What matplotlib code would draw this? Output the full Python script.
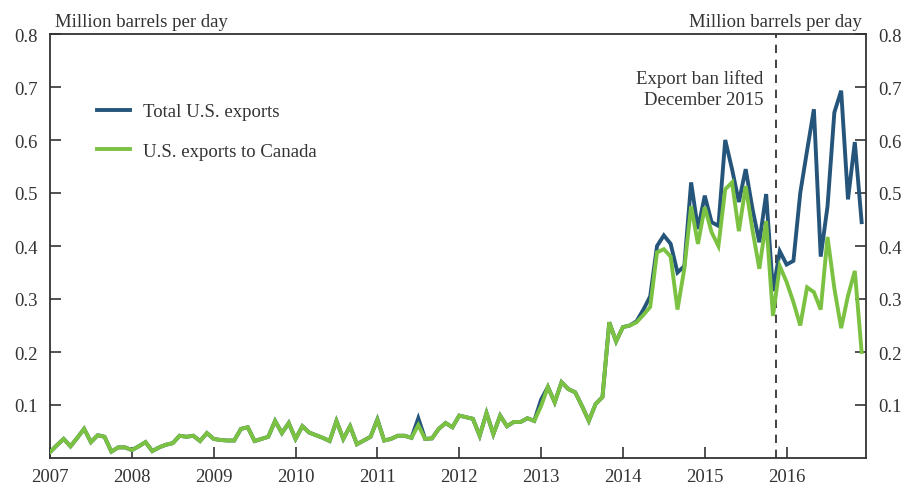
import matplotlib
matplotlib.use("Agg")
import matplotlib.pyplot as plt
import numpy as np

# Monthly data, Jan 2007 - Dec 2016 (million barrels per day)
canada = [
    # 2007
    0.011, 0.024, 0.036, 0.022, 0.038, 0.055, 0.030, 0.043, 0.040, 0.012, 0.020, 0.020,
    # 2008
    0.015, 0.022, 0.030, 0.013, 0.020, 0.025, 0.028, 0.042, 0.040, 0.042, 0.032, 0.047,
    # 2009
    0.036, 0.034, 0.033, 0.033, 0.055, 0.058, 0.032, 0.036, 0.040, 0.070, 0.047, 0.066,
    # 2010
    0.036, 0.060, 0.048, 0.043, 0.038, 0.032, 0.070, 0.036, 0.060, 0.026, 0.033, 0.040,
    # 2011
    0.072, 0.033, 0.036, 0.042, 0.042, 0.038, 0.062, 0.036, 0.037, 0.055, 0.066, 0.058,
    # 2012
    0.080, 0.077, 0.074, 0.042, 0.085, 0.045, 0.080, 0.060, 0.068, 0.068, 0.075, 0.070,
    # 2013
    0.098, 0.134, 0.105, 0.143, 0.130, 0.124, 0.098, 0.070, 0.102, 0.115, 0.256, 0.220,
    # 2014
    0.247, 0.250, 0.256, 0.270, 0.285, 0.388, 0.394, 0.380, 0.280, 0.357, 0.475, 0.404,
    # 2015
    0.473, 0.426, 0.400, 0.507, 0.520, 0.428, 0.513, 0.430, 0.357, 0.447, 0.268, 0.362,
    # 2016
    0.332, 0.294, 0.250, 0.322, 0.313, 0.280, 0.417, 0.320, 0.245, 0.306, 0.353, 0.200,
]

total = [
    # 2007
    0.011, 0.024, 0.036, 0.022, 0.038, 0.055, 0.030, 0.043, 0.040, 0.012, 0.020, 0.020,
    # 2008
    0.015, 0.022, 0.030, 0.013, 0.020, 0.025, 0.028, 0.042, 0.040, 0.042, 0.032, 0.047,
    # 2009
    0.036, 0.034, 0.033, 0.033, 0.055, 0.058, 0.032, 0.036, 0.040, 0.070, 0.047, 0.066,
    # 2010
    0.036, 0.060, 0.048, 0.043, 0.038, 0.032, 0.070, 0.036, 0.060, 0.026, 0.033, 0.040,
    # 2011
    0.073, 0.033, 0.036, 0.042, 0.042, 0.038, 0.075, 0.036, 0.037, 0.055, 0.066, 0.058,
    # 2012
    0.080, 0.077, 0.074, 0.042, 0.085, 0.045, 0.080, 0.060, 0.068, 0.068, 0.075, 0.070,
    # 2013
    0.110, 0.134, 0.105, 0.143, 0.130, 0.124, 0.098, 0.070, 0.102, 0.115, 0.256, 0.220,
    # 2014
    0.247, 0.250, 0.258, 0.280, 0.305, 0.400, 0.420, 0.404, 0.350, 0.362, 0.520, 0.432,
    # 2015
    0.495, 0.445, 0.438, 0.600, 0.545, 0.483, 0.545, 0.470, 0.407, 0.498, 0.315, 0.390,
    # 2016
    0.365, 0.372, 0.500, 0.580, 0.658, 0.380, 0.475, 0.652, 0.693, 0.488, 0.596, 0.445,
]

start_year = 2007
year_ticks = list(range(2007, 2017))
y_ticks = [0.1, 0.2, 0.3, 0.4, 0.5, 0.6, 0.7, 0.8]
ban_lifted = 2015.875

series_labels = ["Total U.S. exports", "U.S. exports to Canada"]
unit_label = "Million barrels per day"
annotation = "Export ban lifted\nDecember 2015"

BLUE = "#25557A"
GREEN = "#7CC242"
SPINE = "#333333"
TEXT = "#333333"
FS = 13.5

plt.rcParams['font.family'] = ['Liberation Serif', 'DejaVu Serif']

months = start_year + np.arange(len(total)) / 12.0

fig = plt.figure(figsize=(9.07, 4.89), dpi=100)
ax = fig.add_axes([50/907, 1-459/489, (866-50)/907, (459-35)/489])

ax.plot(months, total, color=BLUE, lw=2.8, label=series_labels[0], solid_joinstyle='miter', zorder=3)
ax.plot(months, canada, color=GREEN, lw=2.8, label=series_labels[1], solid_joinstyle='miter', zorder=4)

ax.axvline(ban_lifted, color="#222222", lw=1.2, ls=(0, (5, 4)), zorder=2)

ax.set_xlim(2007.0, 2016.97)
ax.set_ylim(0, 0.8)
ax.set_xticks(year_ticks)
ax.set_xticklabels([str(y) for y in year_ticks])
ax.set_yticks(y_ticks)
ax.set_yticklabels([f"{v:.1f}" for v in y_ticks])

ax.tick_params(axis='both', direction='in', length=8, width=1.2, color=SPINE,
               labelsize=FS, labelcolor=TEXT)
ax.tick_params(axis='y', left=True, right=True, labelleft=True, labelright=True, pad=9)
ax.tick_params(axis='x', pad=7)
for s in ax.spines.values():
    s.set_color(SPINE)
    s.set_linewidth(1.3)

fig.text(55/907, 1-27/489, unit_label, ha='left', va='baseline', fontsize=FS, color=TEXT)
fig.text(862/907, 1-27/489, unit_label, ha='right', va='baseline', fontsize=FS, color=TEXT)

ax.text(2015.72, 0.66, annotation, ha='right', va='bottom', fontsize=FS,
        color=TEXT, linespacing=1.3)

leg = ax.legend(loc='upper left', bbox_to_anchor=((97-50)/816, (459-104)/424), frameon=False,
                fontsize=FS, handlelength=1.75, handletextpad=0.7, labelspacing=1.2,
                borderaxespad=0, borderpad=0)
for t in leg.get_texts():
    t.set_color(TEXT)

fig.savefig("out.png", dpi=100)
